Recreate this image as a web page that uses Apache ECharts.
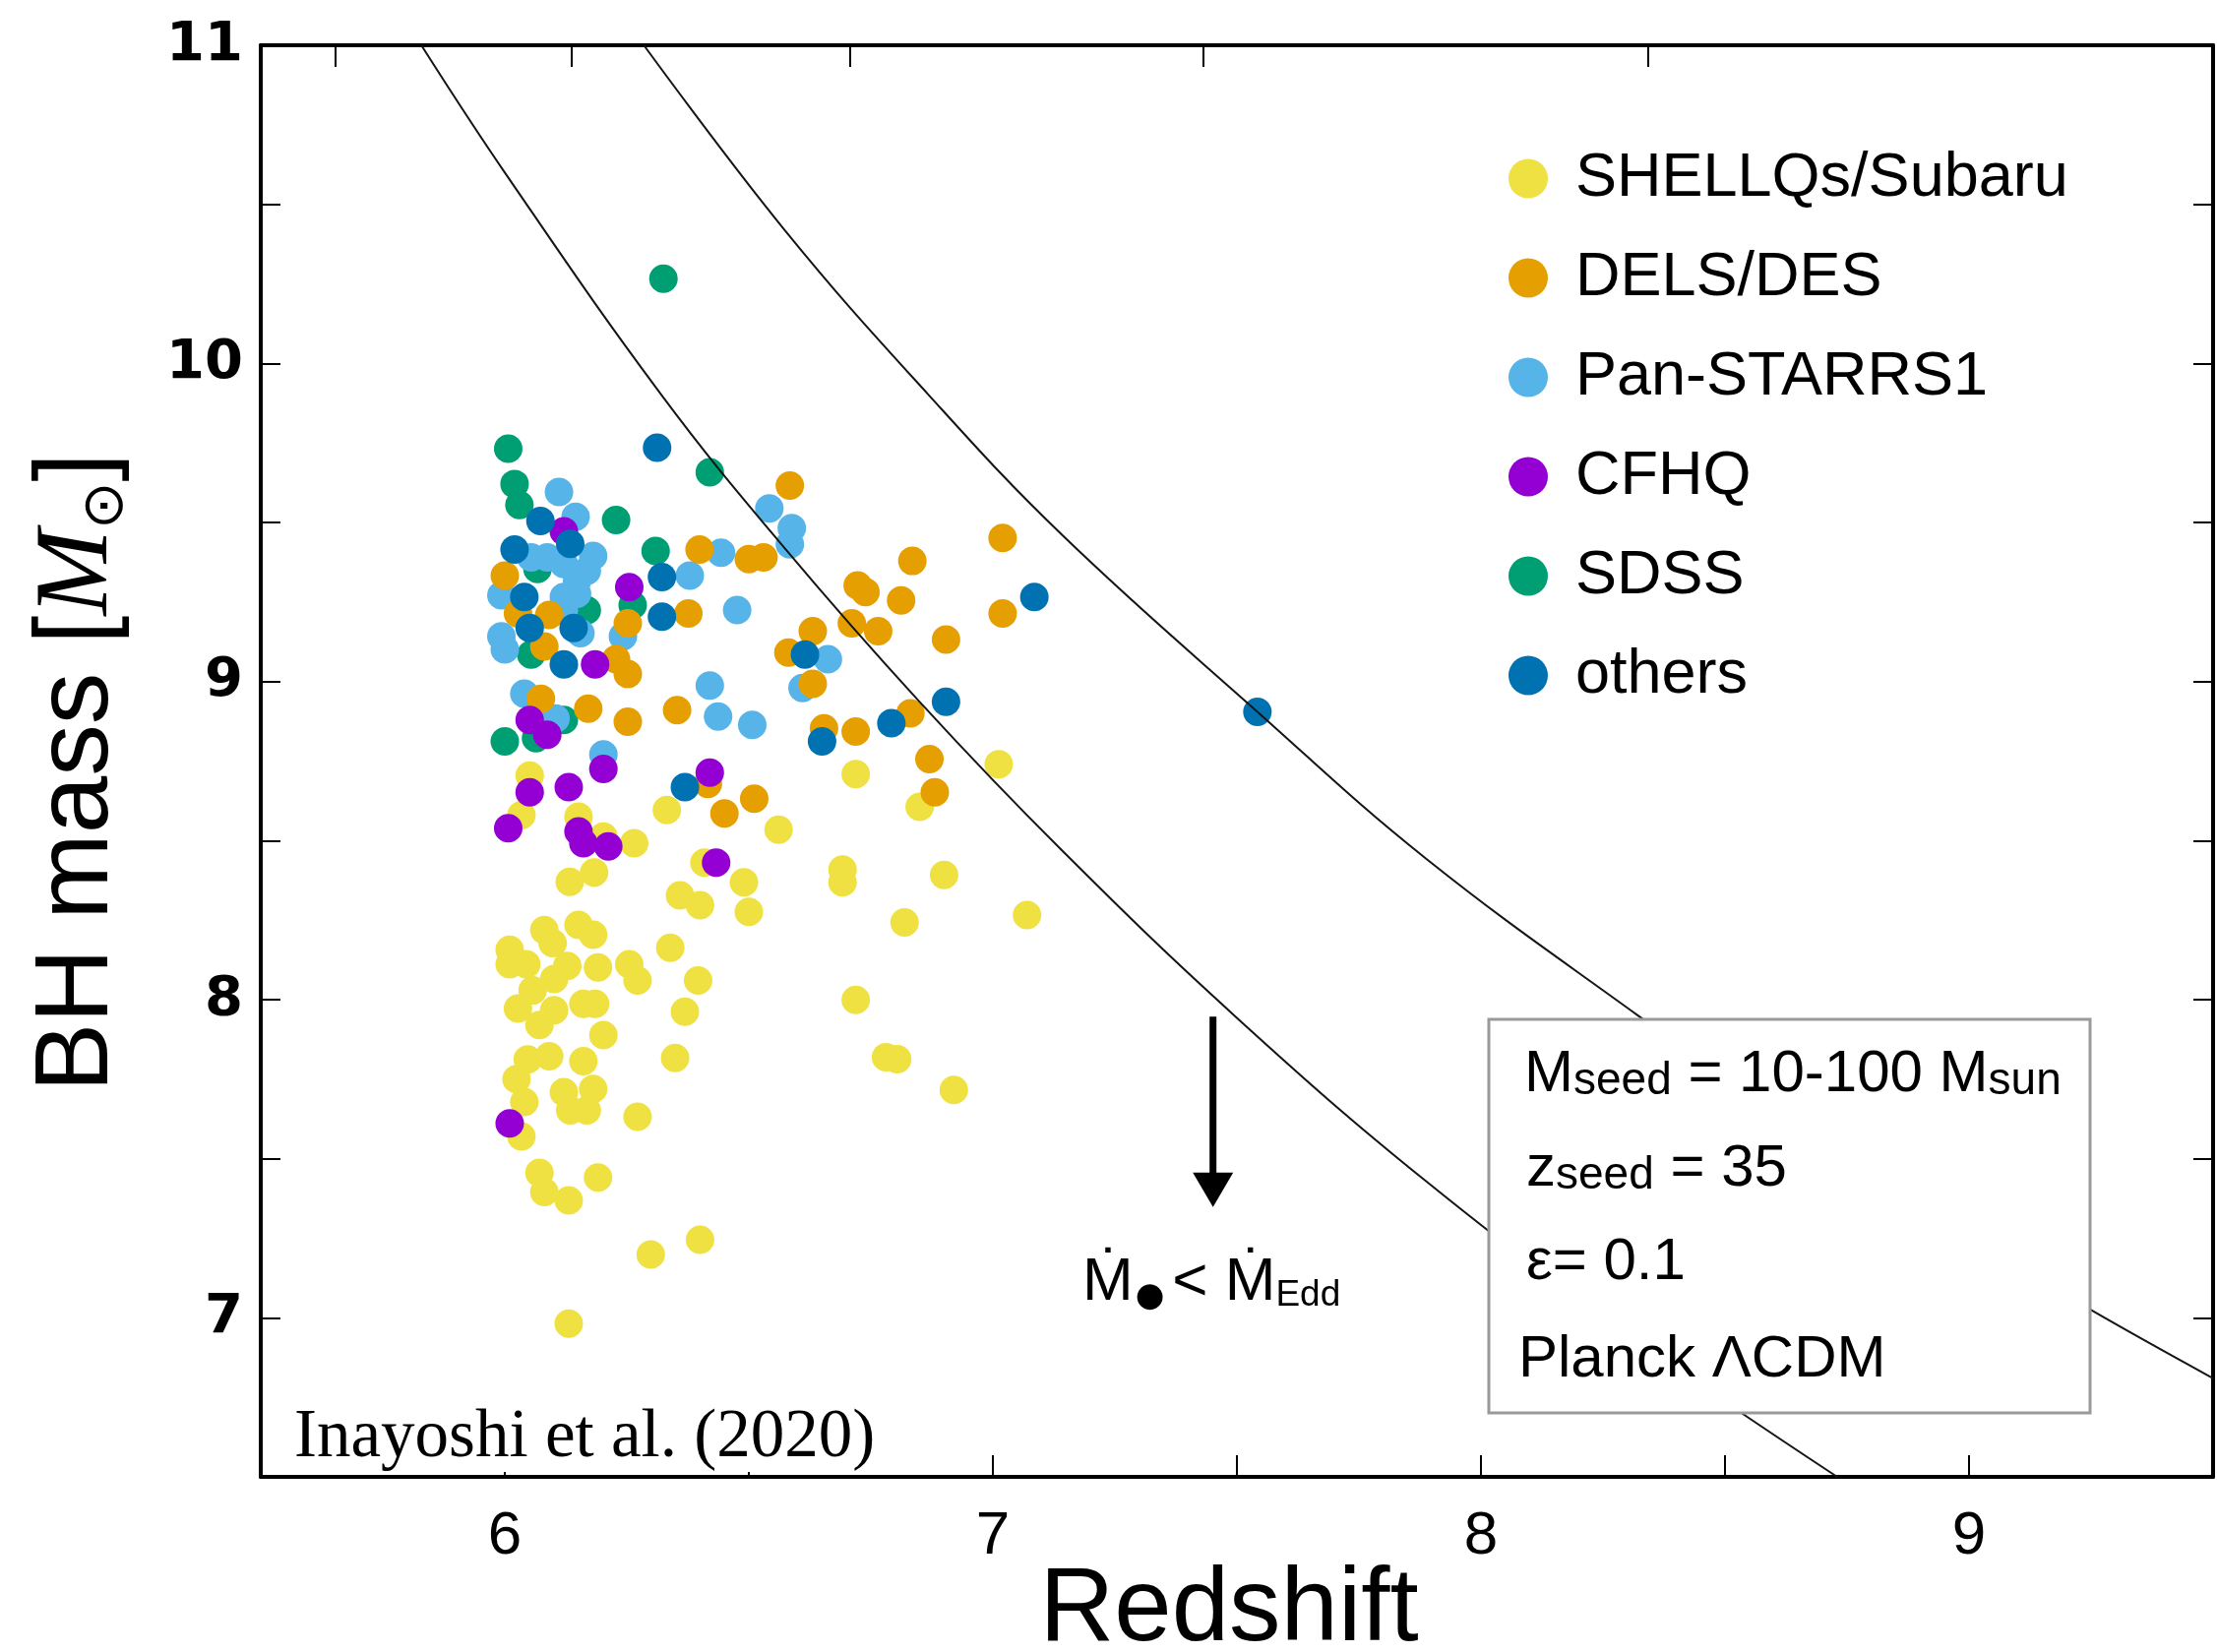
<!DOCTYPE html>
<html>
<head>
<meta charset="utf-8">
<title>BH mass vs redshift</title>
<script src="https://cdn.jsdelivr.net/npm/echarts@6/dist/echarts.min.js"></script>
<style>
  html, body { margin: 0; padding: 0; background: #ffffff; }
  #chart { width: 2253px; height: 1679px; }
</style>
</head>
<body>
<div id="chart"></div>
<script>
// ---- quasar samples: [redshift, log10 BH mass] ----
const shellqs = [
  [6.051,8.704],[6.034,8.580],[6.151,8.575],[6.202,8.513],[6.265,8.492],[6.332,8.596],[6.409,8.431],
  [6.183,8.400],[6.133,8.370],[6.490,8.369],[6.359,8.328],[6.400,8.297],[6.500,8.276],[6.081,8.219],
  [6.151,8.235],[6.181,8.204],[6.010,8.157],[6.098,8.178],[6.339,8.163],[6.010,8.111],[6.044,8.111],
  [6.128,8.106],[6.191,8.101],[6.255,8.111],[6.272,8.060],[6.101,8.065],[6.396,8.060],[6.057,8.029],
  [6.027,7.972],[6.101,7.967],[6.161,7.987],[6.185,7.987],[6.071,7.920],[6.369,7.962],[6.202,7.889],
  [6.349,7.817],[6.047,7.812],[6.091,7.822],[6.161,7.807],[6.024,7.750],[6.121,7.709],[6.181,7.719],
  [6.040,7.678],[6.134,7.652],[6.168,7.652],[6.272,7.632],[6.034,7.570],[6.071,7.456],[6.191,7.441],
  [6.081,7.395],[6.131,7.369],[6.299,7.199],[6.400,7.245],[6.131,6.982],[6.719,8.709],[6.850,8.606],
  [7.012,8.740],[6.561,8.534],[6.692,8.409],[6.692,8.369],[6.900,8.392],[6.819,8.243],[7.070,8.266],
  [6.719,7.999],[6.781,7.819],[6.804,7.813],[6.920,7.716]
];
const dels = [
  [6.000,9.333],[6.027,9.214],[6.091,9.209],[6.081,9.110],[6.228,9.070],[6.252,9.024],[6.074,8.946],
  [6.171,8.915],[6.353,8.910],[6.252,8.874],[6.416,8.678],[6.450,8.585],[6.511,8.632],[6.252,9.183],
  [6.376,9.214],[6.399,9.415],[6.500,9.385],[6.530,9.390],[6.584,9.616],[6.835,9.379],[7.020,9.451],
  [7.020,9.214],[6.723,9.302],[6.739,9.281],[6.812,9.255],[6.631,9.158],[6.711,9.183],[6.765,9.158],
  [6.904,9.132],[6.581,9.091],[6.631,8.993],[6.654,8.853],[6.719,8.843],[6.831,8.900],[6.870,8.756],
  [6.881,8.652]
];
const panstarrs = [
  [6.111,9.596],[6.145,9.518],[6.087,9.390],[6.181,9.395],[6.054,9.390],[6.121,9.369],[6.168,9.348],
  [6.148,9.317],[6.148,9.276],[6.121,9.224],[6.443,9.405],[6.379,9.333],[5.993,9.271],[6.121,9.266],
  [6.242,9.142],[5.993,9.142],[6.000,9.101],[6.420,8.987],[6.040,8.962],[6.437,8.890],[6.104,8.884],
  [6.202,8.771],[6.542,9.544],[6.588,9.482],[6.584,9.431],[6.476,9.225],[6.662,9.070],[6.507,8.864],
  [6.610,8.980],[6.155,9.152]
];
const cfhq = [
  [6.121,9.472],[6.255,9.297],[6.185,9.054],[6.051,8.879],[6.087,8.833],[6.202,8.725],[6.051,8.652],
  [6.131,8.668],[6.420,8.714],[6.007,8.539],[6.151,8.529],[6.212,8.482],[6.161,8.492],[6.433,8.431],
  [6.010,7.611]
];
const sdss = [
  [6.007,9.732],[6.420,9.658],[6.020,9.621],[6.030,9.555],[6.228,9.508],[6.309,9.410],[6.262,9.240],
  [6.054,9.085],[6.121,8.879],[6.000,8.812],[6.325,10.266],[6.168,9.224],[6.064,8.822],[6.067,9.354]
];
const others = [
  [6.312,9.735],[6.073,9.505],[6.134,9.433],[6.020,9.415],[6.322,9.328],[6.040,9.266],[6.051,9.168],
  [6.141,9.168],[6.322,9.204],[6.121,9.054],[6.369,8.668],[6.615,9.085],[6.650,8.812],[6.792,8.869],
  [6.904,8.936],[7.085,9.266],[7.542,8.905]
];

// ---- Eddington-limited growth tracks from z_seed = 35 ----
const trackSeedLow = [
  [5.829,11.00],[6.000,10.60],[6.319,9.905],[6.573,9.420],[6.850,8.936],[7.141,8.470],
  [7.497,7.947],[7.887,7.430],[8.300,6.950],[8.730,6.500]
];
const trackSeedHigh = [
  [6.285,11.00],[6.573,10.42],[6.866,9.905],[7.141,9.462],[7.542,8.905],
  [7.887,8.444],[8.321,7.951],[8.780,7.450],[9.244,7.030],[9.500,6.810]
];

// ---- legend / axes ----
const surveyNames  = ['SHELLQs/Subaru', 'DELS/DES', 'Pan-STARRS1', 'CFHQ', 'SDSS', 'others'];
const surveyColors = ['#EFE142', '#E69F00', '#56B4E9', '#9400D3', '#009E73', '#0072B2'];
const surveyData   = [shellqs, dels, panstarrs, cfhq, sdss, others];
const drawOrder    = [4, 0, 2, 1, 3, 5];           // stacking, bottom to top
const xRange = [5.5, 9.5];
const yRange = [6.5, 11];
const xLabelValues = [6, 7, 8, 9];
const yLabelValues = [7, 8, 9, 10, 11];
const ageTickRedshifts = [5.653, 6.136, 6.708, 7.430, 8.342];   // top axis: cosmic age marks

// ---- annotation: sub-Eddington arrow ----
const arrowZ = 7.451;
const arrowFromTo = [7.947, 7.348];

const SANS = '"Liberation Sans", Arial, Helvetica, sans-serif';
const SERIF = '"Liberation Serif", "Times New Roman", serif';

const chart = echarts.init(document.getElementById('chart'), null, { renderer: 'canvas', width: 2253, height: 1679 });

const tickStyle = { color: '#000', width: 2 };
const frameLine = { show: true, onZero: false, lineStyle: { color: '#000', width: 4 } };

const scatterSeries = drawOrder.map(i => ({
  name: surveyNames[i],
  type: 'scatter',
  xAxisIndex: 0,
  yAxisIndex: 0,
  data: surveyData[i],
  symbol: 'circle',
  symbolSize: 29,
  itemStyle: { color: surveyColors[i], opacity: 1 },
  z: 2,
  silent: true
}));

const trackSeries = [trackSeedLow, trackSeedHigh].map((d, k) => ({
  name: k === 0 ? 'track-low' : 'track-high',
  type: 'line',
  xAxisIndex: 0,
  yAxisIndex: 0,
  data: d,
  smooth: 0.4,
  showSymbol: false,
  symbol: 'none',
  lineStyle: { color: '#151515', width: 2 },
  clip: true,
  z: 3,
  silent: true
}));

chart.setOption({
  animation: false,
  backgroundColor: '#ffffff',
  grid: { left: 265, top: 46, right: 4, bottom: 178, outerBoundsMode: 'none', containLabel: false, show: false },
  legend: {
    data: surveyNames.map((n, i) => ({ name: n, itemStyle: { color: surveyColors[i] } })),
    orient: 'vertical',
    left: 1533,
    top: 150,
    padding: 0,
    icon: 'circle',
    itemWidth: 86,
    itemHeight: 40,
    itemGap: 38,
    selectedMode: false,
    textStyle: { fontFamily: SANS, fontSize: 63, color: '#000', lineHeight: 60 }
  },
  xAxis: [
    {
      type: 'value', position: 'bottom', min: xRange[0], max: xRange[1], interval: 0.5,
      axisLine: frameLine,
      axisTick: { show: true, inside: true, length: 22, lineStyle: tickStyle },
      axisLabel: {
        margin: 30, fontFamily: SANS, fontSize: 62, color: '#000',
        formatter: v => (xLabelValues.includes(v) ? String(v) : '')
      },
      splitLine: { show: false }
    },
    {
      type: 'value', position: 'top', min: xRange[0], max: xRange[1],
      axisLine: frameLine,
      axisTick: { show: true, inside: true, length: 22, customValues: ageTickRedshifts, lineStyle: tickStyle },
      axisLabel: { show: false },
      splitLine: { show: false }
    }
  ],
  yAxis: [
    {
      type: 'value', position: 'left', min: yRange[0], max: yRange[1], interval: 0.5,
      axisLine: frameLine,
      axisTick: { show: true, inside: true, length: 20, lineStyle: tickStyle },
      axisLabel: {
        margin: 18, fontFamily: '"DejaVu Sans", sans-serif', fontWeight: 'bold', fontSize: 56, color: '#000',
        formatter: v => (yLabelValues.includes(v) ? String(v) : '')
      },
      splitLine: { show: false }
    },
    {
      type: 'value', position: 'right', min: yRange[0], max: yRange[1], interval: 0.5,
      axisLine: frameLine,
      axisTick: { show: true, inside: true, length: 20, lineStyle: tickStyle },
      axisLabel: { show: false },
      splitLine: { show: false }
    }
  ],
  series: scatterSeries.concat(trackSeries)
});

// ---- text, box and arrow annotations ----
const a0 = chart.convertToPixel({ xAxisIndex: 0, yAxisIndex: 0 }, [arrowZ, arrowFromTo[0]]);
const a1 = chart.convertToPixel({ xAxisIndex: 0, yAxisIndex: 0 }, [arrowZ, arrowFromTo[1]]);
const headH = 35, headW = 41, shaftW = 7;

const boxRich = {
  b: { fontFamily: SANS, fontSize: 60, lineHeight: 60, verticalAlign: 'bottom', fill: '#000' },
  s: { fontFamily: SANS, fontSize: 46, lineHeight: 46, verticalAlign: 'bottom', fill: '#000' }
};

const elements = [
  // y axis title
  {
    type: 'text', x: 80, y: 785, rotation: Math.PI / 2, z: 100,
    style: {
      text: '{n|BH mass [}{i|M}{s|⊙}{n|]}',
      align: 'center', verticalAlign: 'middle',
      rich: {
        n: { fontFamily: SANS, fontSize: 105, lineHeight: 115, verticalAlign: 'middle', fill: '#000' },
        i: { fontFamily: SERIF, fontStyle: 'italic', fontSize: 105, lineHeight: 115, verticalAlign: 'middle', fill: '#000' },
        s: { fontFamily: '"DejaVu Sans", sans-serif', fontSize: 58, lineHeight: 58, verticalAlign: 'bottom', fill: '#000' }
      }
    }
  },
  // x axis title
  {
    type: 'text', x: 1249, y: 1638, z: 100,
    style: { text: 'Redshift', fontFamily: SANS, fontSize: 105, fill: '#000', align: 'center', verticalAlign: 'middle' }
  },
  // citation
  {
    type: 'rect', z: 100, shape: { x: 268, y: 1420, width: 637, height: 76 },
    style: { fill: '#ffffff', stroke: null }
  },
  {
    type: 'text', x: 299, y: 1462, z: 101,
    style: { text: 'Inayoshi et al. (2020)', fontFamily: SERIF, fontSize: 69, fill: '#000', align: 'left', verticalAlign: 'middle' }
  },
  // parameter box
  {
    type: 'rect', z: 100, shape: { x: 1513, y: 1036, width: 611, height: 400 },
    style: { fill: '#ffffff', stroke: '#9a9a9a', lineWidth: 3 }
  },
  {
    type: 'text', x: 1549, y: 1092, z: 101,
    style: { text: '{b|M}{s|seed}{b| = 10-100 M}{s|sun}', align: 'left', verticalAlign: 'middle', rich: boxRich }
  },
  {
    type: 'text', x: 1551, y: 1188, z: 101,
    style: { text: '{b|z}{s|seed}{b| = 35}', align: 'left', verticalAlign: 'middle', rich: boxRich }
  },
  {
    type: 'text', x: 1551, y: 1283, z: 101,
    style: { text: '{b|ε= 0.1}', align: 'left', verticalAlign: 'middle', rich: boxRich }
  },
  {
    type: 'text', x: 1543, y: 1382, z: 101,
    style: { text: '{b|Planck ΛCDM}', align: 'left', verticalAlign: 'middle', rich: boxRich }
  },
  // sub-Eddington arrow
  {
    type: 'rect', z: 100,
    shape: { x: a0[0] - shaftW / 2, y: a0[1], width: shaftW, height: a1[1] - a0[1] - headH + 2 },
    style: { fill: '#000' }
  },
  {
    type: 'polygon', z: 100,
    shape: { points: [[a1[0] - headW / 2, a1[1] - headH], [a1[0] + headW / 2, a1[1] - headH], [a1[0], a1[1]]] },
    style: { fill: '#000' }
  },
  {
    type: 'text', x: 1100, y: 1304, z: 101,
    style: {
      text: '{m|\u1E40}{bh|●}{m|< \u1E40}{e|Edd}',
      align: 'left', verticalAlign: 'middle',
      rich: {
        m: { fontFamily: '"Liberation Sans", "DejaVu Sans", sans-serif', fontSize: 62, lineHeight: 62, verticalAlign: 'bottom', fill: '#000' },
        bh: { fontFamily: '"DejaVu Sans", sans-serif', fontSize: 34, lineHeight: 32, verticalAlign: 'bottom', fill: '#000', padding: [0, 8, 0, 2] },
        e: { fontFamily: SANS, fontSize: 37, lineHeight: 42, verticalAlign: 'bottom', fill: '#000' }
      }
    }
  }
];

chart.setOption({ graphic: { elements: elements } });
</script>
</body>
</html>
